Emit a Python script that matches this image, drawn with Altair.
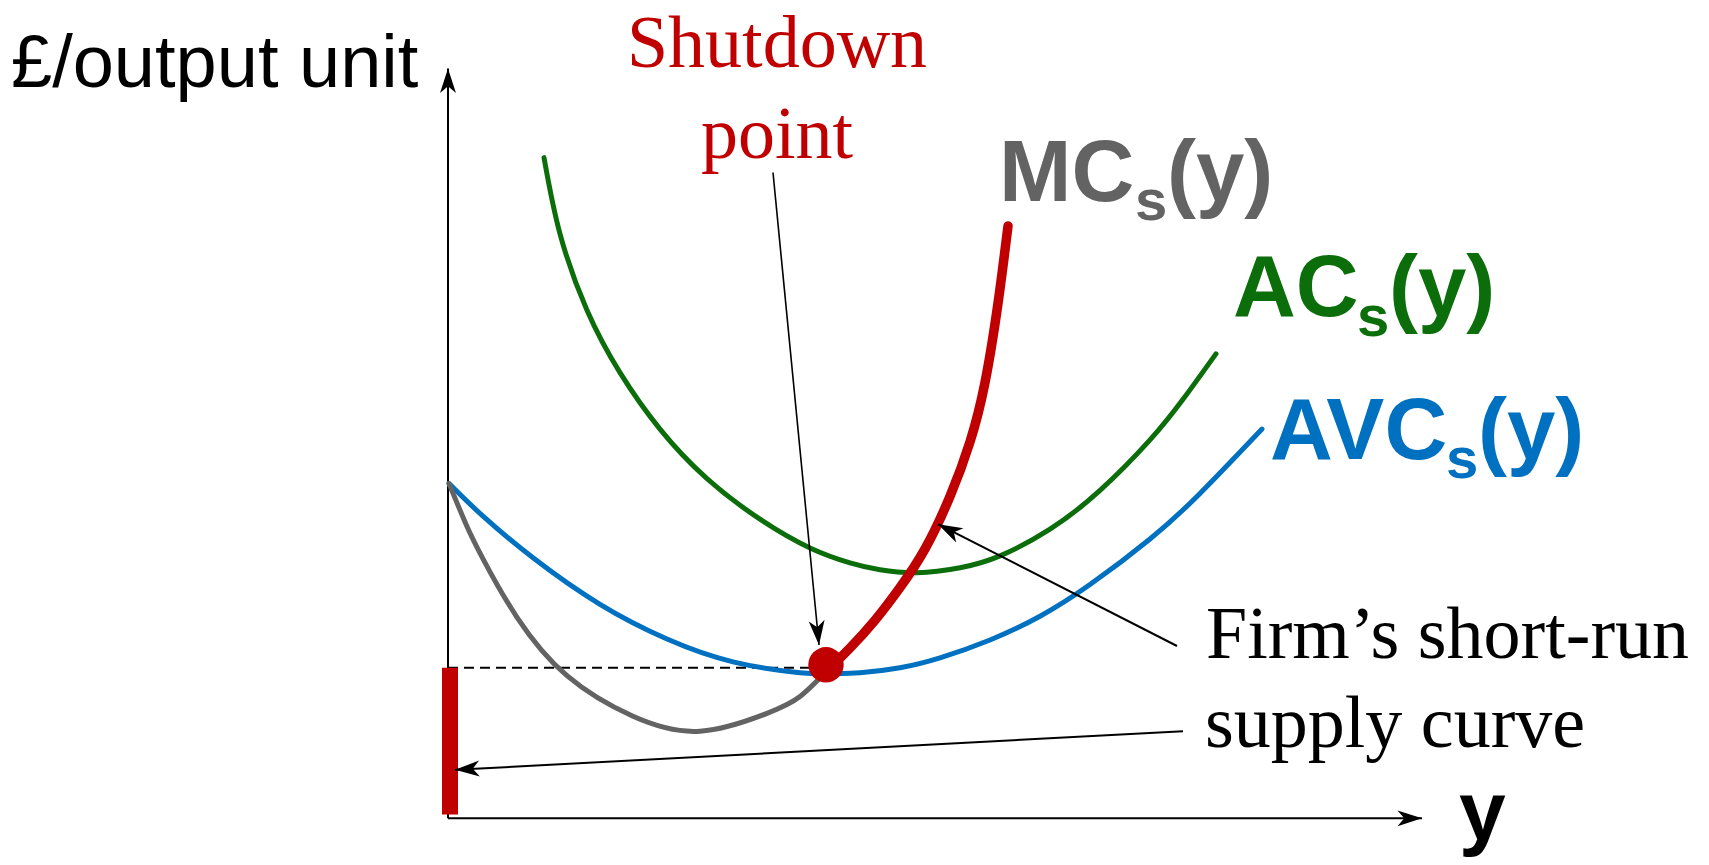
import math
import altair as alt
import pandas as pd

# ---- curve data (arbitrary units: x = output y, y = £ per output unit) ----
ac_x = [0.96, 1.12, 1.39, 1.72, 2.12, 2.59, 3.12, 3.62, 4.02, 4.32, 4.69, 5.12, 5.52, 6.02, 6.52, 7.02, 7.35, 7.68]
ac_y = [6.67, 5.90, 5.13, 4.50, 3.93, 3.43, 3.02, 2.73, 2.58, 2.51, 2.48, 2.53, 2.65, 2.92, 3.31, 3.82, 4.23, 4.69]

avc_x = [0.01, 0.35, 0.85, 1.52, 2.19, 2.85, 3.52, 3.82, 4.12, 4.52, 4.92, 5.42, 5.92, 6.42, 7.02, 7.52, 8.14]
avc_y = [3.38, 3.05, 2.63, 2.16, 1.81, 1.58, 1.47, 1.46, 1.47, 1.52, 1.62, 1.80, 2.04, 2.36, 2.82, 3.28, 3.93]

mc_low_x = [0.01, 0.18, 0.35, 0.69, 1.19, 1.85, 2.52, 3.19, 3.52, 3.78]
mc_low_y = [3.38, 2.97, 2.62, 2.03, 1.44, 1.03, 0.88, 1.06, 1.23, 1.48]

mc_supply_x = [3.78, 4.02, 4.27, 4.52, 4.77, 5.02, 5.22, 5.37, 5.50, 5.60]
mc_supply_y = [1.48, 1.72, 2.00, 2.33, 2.72, 3.25, 3.80, 4.40, 5.20, 5.98]

shutdown_x, shutdown_y = 3.78, 1.55
shutdown_price = 1.52

# axes
y_axis_top = 7.57
x_axis_right = 9.74

# annotation arrows: start -> tip
arrow_x1 = [3.25, 7.29, 7.35]
arrow_y1 = [6.52, 1.74, 0.88]
arrow_x2 = [3.71, 4.90, 0.07]
arrow_y2 = [1.75, 2.97, 0.49]
arrow_w = [1.6, 2.0, 2.0]

# ---- text ----
title_text = ["£/output unit"]
title_x, title_y = [-4.37], [7.38]

shut_text = ["Shutdown", "point"]
shut_x = [3.29, 3.29]
shut_y = [7.58, 6.67]

firm_text = ["Firm\u2019s short-run", "supply curve"]
firm_x = [7.58, 7.57]
firm_y = [1.62, 0.72]

bold_text = ["MC", "s", "(y)", "AC", "s", "(y)", "AVC", "s", "(y)", "y"]
bold_x = [5.51, 6.87, 7.19, 7.85, 9.09, 9.41, 8.22, 9.98, 10.30, 10.11]
bold_y = [6.23, 6.04, 6.23, 5.07, 4.87, 5.07, 3.63, 3.44, 3.63, -0.22]
bold_size = [87, 58, 87, 87, 58, 87, 87, 58, 87, 84]

GREY = "#636363"
GREEN = "#0b6e0b"
BLUE = "#0070c0"
RED = "#c00000"
bold_color = [GREY, GREY, GREY, GREEN, GREEN, GREEN, BLUE, BLUE, BLUE, "#000000"]

# ---- scales ----
W, H = 1693, 849
xs = alt.Scale(domain=[-4.40, 12.53], nice=False, zero=False)
ys = alt.Scale(domain=[-0.37, 8.12], nice=False, zero=False)


def X(f="x"):
    return alt.X(f"{f}:Q", scale=xs, axis=None)


def Y(f="y"):
    return alt.Y(f"{f}:Q", scale=ys, axis=None)


def curve(xv, yv, color, width):
    df = pd.DataFrame({"x": xv, "y": yv, "o": range(len(xv))})
    return alt.Chart(df).mark_line(
        color=color, strokeWidth=width, interpolate="natural", strokeCap="round"
    ).encode(x=X(), y=Y(), order="o:Q")


def segs(x1, y1, x2, y2):
    return pd.DataFrame({"x": x1, "y": y1, "x2": x2, "y2": y2})


ARROW = "M0,0 L0.65,2 L0,1.45 L-0.65,2 Z"

# axes
axes_df = segs([0, 0], [0, 0], [0, x_axis_right], [y_axis_top, 0])
axes = alt.Chart(axes_df).mark_rule(color="black", strokeWidth=2).encode(
    x=X(), y=Y(), x2="x2:Q", y2="y2:Q"
)
axis_heads_df = pd.DataFrame({"x": [0, x_axis_right], "y": [y_axis_top, 0], "a": [0, 90]})
axis_heads = alt.Chart(axis_heads_df).mark_point(
    shape=ARROW, filled=True, color="black", opacity=1, size=600, strokeWidth=0
).encode(x=X(), y=Y(), angle=alt.Angle("a:Q", scale=None))

# dashed level line
dash = alt.Chart(segs([0], [shutdown_price], [shutdown_x], [shutdown_price])).mark_rule(
    color="black", strokeWidth=2, strokeDash=[10, 6]
).encode(x=X(), y=Y(), x2="x2:Q", y2="y2:Q")

# red bar on the price axis (zero supply below shutdown price)
bar = alt.Chart(segs([0.02], [0.04], [0.02], [shutdown_price])).mark_rule(
    color=RED, strokeWidth=16, strokeCap="butt"
).encode(x=X(), y=Y(), x2="x2:Q", y2="y2:Q")

ac = curve(ac_x, ac_y, GREEN, 5)
avc = curve(avc_x, avc_y, BLUE, 5)
mc_low = curve(mc_low_x, mc_low_y, GREY, 5)
mc_sup = curve(mc_supply_x, mc_supply_y, RED, 9.5)

dot = alt.Chart(pd.DataFrame({"x": [shutdown_x], "y": [shutdown_y]})).mark_point(
    shape="circle", filled=True, color=RED, opacity=1, size=1257
).encode(x=X(), y=Y())

# annotation arrows
arr_df = pd.DataFrame({"x": arrow_x1, "y": arrow_y1, "x2": arrow_x2, "y2": arrow_y2, "w": arrow_w})
arr_lines = alt.Chart(arr_df).mark_rule(color="black").encode(
    x=X(), y=Y(), x2="x2:Q", y2="y2:Q", strokeWidth=alt.StrokeWidth("w:Q", scale=None)
)
angles = [
    (math.degrees(math.atan2(x2 - x1, y2 - y1)) + 360) % 360
    for x1, y1, x2, y2 in zip(arrow_x1, arrow_y1, arrow_x2, arrow_y2)
]
heads_df = pd.DataFrame({"x": arrow_x2, "y": arrow_y2, "a": angles})
arr_heads = alt.Chart(heads_df).mark_point(
    shape=ARROW, filled=True, color="black", opacity=1, size=600, strokeWidth=0
).encode(x=X(), y=Y(), angle=alt.Angle("a:Q", scale=None))

# texts
t_title = alt.Chart(pd.DataFrame({"x": title_x, "y": title_y, "t": title_text})).mark_text(
    font="Liberation Sans", fontSize=74, align="left", baseline="alphabetic", color="black"
).encode(x=X(), y=Y(), text="t:N")

t_shut = alt.Chart(pd.DataFrame({"x": shut_x, "y": shut_y, "t": shut_text})).mark_text(
    font="Liberation Serif", fontSize=74, align="center", baseline="alphabetic", color=RED
).encode(x=X(), y=Y(), text="t:N")

t_firm = alt.Chart(pd.DataFrame({"x": firm_x, "y": firm_y, "t": firm_text})).mark_text(
    font="Liberation Serif", fontSize=74, align="left", baseline="alphabetic", color="black"
).encode(x=X(), y=Y(), text="t:N")

bold_df = pd.DataFrame({"x": bold_x, "y": bold_y, "t": bold_text, "s": bold_size, "c": bold_color})
t_bold = alt.Chart(bold_df).mark_text(
    font="Liberation Sans", fontWeight="bold", align="left", baseline="alphabetic"
).encode(
    x=X(), y=Y(), text="t:N",
    size=alt.Size("s:Q", scale=None),
    color=alt.Color("c:N", scale=None),
)

chart = alt.layer(
    axes, axis_heads, dash, ac, avc, mc_low, mc_sup, bar, dot,
    arr_lines, arr_heads, t_title, t_shut, t_firm, t_bold
).properties(
    width=W, height=H, padding=0,
    autosize=alt.AutoSizeParams(type="fit", contains="padding"),
    background="white",
).configure_view(stroke=None)

chart.save("out.html", embed_options={"renderer": "svg", "actions": False})
